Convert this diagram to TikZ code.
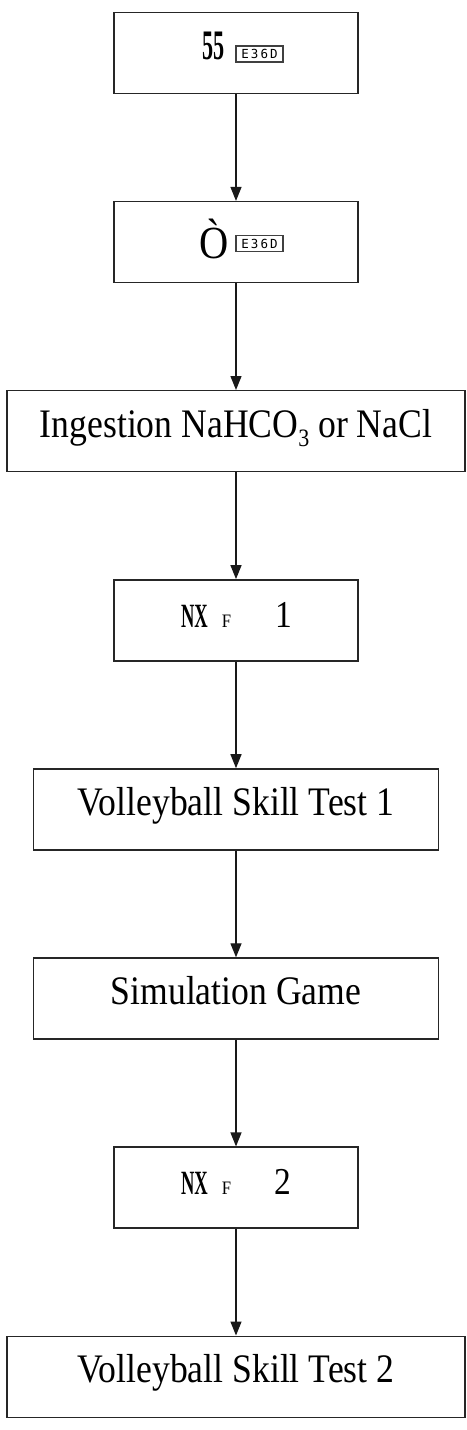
\documentclass[tikz,border=0pt]{standalone}
\usepackage{fontspec}
\setmainfont{Liberation Serif}[FakeStretch=0.88]
\newfontfamily\boxmono{DejaVu Sans Mono}
\usetikzlibrary{arrows.meta}
\begin{document}
\begin{tikzpicture}[x=1pt,y=-1pt,
  stepbox/.style={draw=black!85, line width=1.4pt, rectangle, inner sep=0pt,
    minimum height=81pt, text height=27pt, text depth=15pt,
    font=\fontsize{40.5}{48}\selectfont},
  narrowbox/.style={stepbox, minimum width=244pt},
  widebox/.style={stepbox, minimum width=458pt},
  midbox/.style={stepbox, minimum width=405pt},
  flow/.style={draw=black!90, line width=1.3pt, -{Triangle[length=14pt,width=11pt]}},
  missing/.style={draw=black!75, line width=1.1pt, inner sep=0pt, minimum width=47pt,
    minimum height=16pt, font=\boxmono\fontsize{12.5}{12.5}\selectfont},
  glyph/.style={inner sep=0pt, anchor=base}
]
\useasboundingbox (0,0) rectangle (466,1430);
\fill[white] (0,0) rectangle (466,1430);

\node[narrowbox] (b1) at (236,53) {};
\node[narrowbox] (b2) at (236,242.1) {};
\node[widebox]   (b3) at (236,431.2) {Ingestion NaHCO\raisebox{-0.22em}{\fontsize{25}{25}\selectfont 3} or NaCl};
\node[narrowbox] (b4) at (236,620.3) {};
\node[midbox]    (b5) at (236,809.4) {Volleyball Skill Test 1};
\node[midbox]    (b6) at (236,998.5) {Simulation Game};
\node[narrowbox] (b7) at (236,1187.6) {};
\node[widebox]   (b8) at (236,1376.7) {Volleyball Skill Test 2};

% box 1 contents
\node[glyph] (g1) at (213.5,59) {\scalebox{0.6}[1]{\fontsize{42}{42}\selectfont\textbf{55}}};
\node[missing] (m1) at (259.5,54) {E\hspace{2pt}3\hspace{2pt}6\hspace{2pt}D};

% box 2 contents
\node[glyph] (g2) at (214.5,258) {\fontsize{46}{46}\selectfont Ò};
\node[missing] (m2) at (259.5,243.5) {E\hspace{2pt}3\hspace{2pt}6\hspace{2pt}D};

% box 4 contents
\node[glyph] (n4) at (194.5,627) {\scalebox{0.62}[1]{\fontsize{34}{34}\selectfont\textbf{NX}}};
\node[glyph] (f4) at (226.5,627) {\fontsize{19}{19}\selectfont F};
\node[glyph] (d4) at (283.5,627) {\fontsize{38}{38}\selectfont 1};

% box 7 contents
\node[glyph] (n7) at (194.5,1194) {\scalebox{0.62}[1]{\fontsize{34}{34}\selectfont\textbf{NX}}};
\node[glyph] (f7) at (226.5,1194) {\fontsize{19}{19}\selectfont F};
\node[glyph] (d7) at (283,1194) {\fontsize{38}{38}\selectfont 2};

\draw[flow] (b1.south) -- (b2.north);
\draw[flow] (b2.south) -- (b3.north);
\draw[flow] (b3.south) -- (b4.north);
\draw[flow] (b4.south) -- (b5.north);
\draw[flow] (b5.south) -- (b6.north);
\draw[flow] (b6.south) -- (b7.north);
\draw[flow] (b7.south) -- (b8.north);
\end{tikzpicture}
\end{document}
